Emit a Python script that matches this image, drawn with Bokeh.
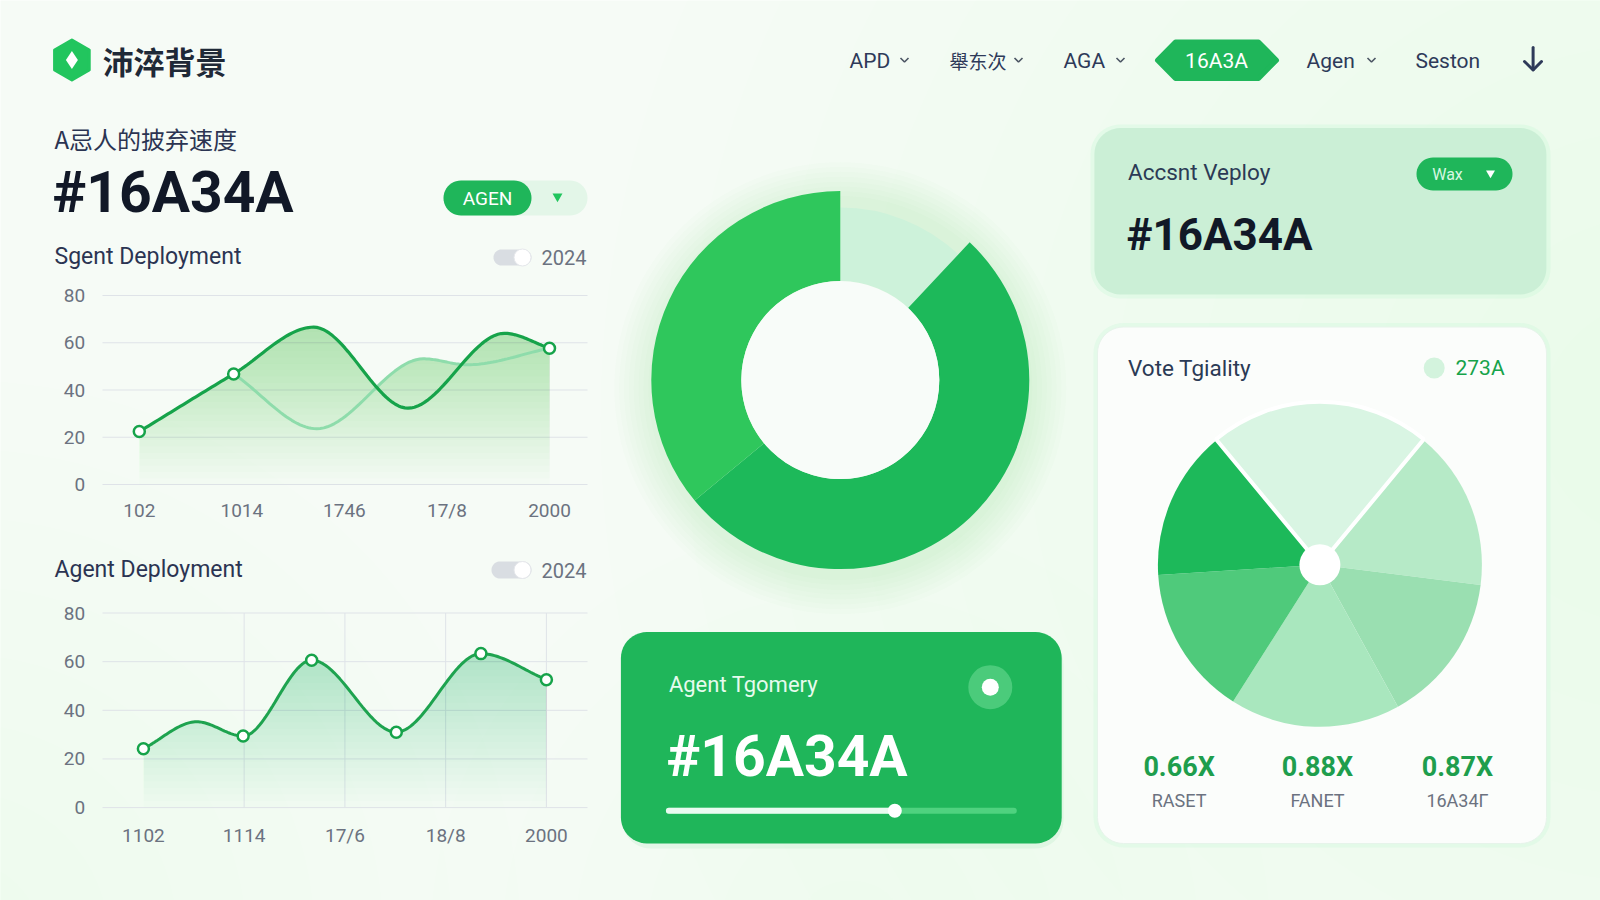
import numpy as np
from bokeh.plotting import figure
from bokeh.models import Range1d
from bokeh.core.properties import value
from bokeh.embed import file_html
from bokeh.resources import INLINE

# ---------------- data ----------------
brand = "沛淬背景"
nav_items = ["APD", "舉东次", "AGA", "16A3A", "Agen", "Seston"]
kpi_title = "A忌人的披弃速度"
kpi_value = "#16A34A"
y_ticks = [0, 20, 40, 60, 80]

c1_title = "Sgent Deployment"
c1_labels = ["102", "1014", "1746", "17/8", "2000"]
c1_main_x = [0, 0.92, 1.70, 2.62, 3.56, 4.0]
c1_main_y = [22.4, 46.8, 66.6, 32.3, 64.0, 57.7]
c1_marked = [0, 1, 5]
c1_soft_x = [0.92, 1.73, 2.77, 3.20, 4.0]
c1_soft_y = [46.8, 23.6, 53.2, 50.7, 57.7]

c2_title = "Agent Deployment"
c2_labels = ["1102", "1114", "17/6", "18/8", "2000"]
c2_x = [0, 0.53, 0.99, 1.67, 2.51, 3.35, 4.0]
c2_y = [24.2, 35.3, 29.4, 60.6, 31.0, 63.3, 52.6]
c2_marked = [0, 2, 3, 4, 5, 6]

donut_values = [12, 52, 36]
donut_colors = ["#cdf2da", "#1db95a", "#2fc75c"]

card_title = "Agent Tgomery"
progress = 0.655

accent_title = "Accsnt Veploy"
vote_title = "Vote Tgiality"
vote_badge = "273A"
pie_values = [22, 16, 15, 17, 15, 15]
pie_colors = ["#d9f5e3", "#b6eac7", "#9adfb1", "#a9e7be", "#4fca7b", "#1db95a"]
stat_values = ["0.66X", "0.88X", "0.87X"]
stat_labels = ["RASET", "FANET", "16A34Γ"]

# ---------------- canvas ----------------
W, H = 1600, 900
BG = "#f6fbf6"
p = figure(width=W, height=H, x_range=Range1d(0, W), y_range=Range1d(H, 0),
           x_axis_type=None, y_axis_type=None, output_backend="svg",
           toolbar_location=None, min_border=0, background_fill_color=BG,
           border_fill_color=BG, outline_line_color=None)

GREEN = "#1fb65a"
DARK = "#16a34a"
NAVY = "#2b3452"
GREY = "#6b7280"


def chart_ranges(x0_px, dx, zero_px, top_px, vmax=80):
    k = (zero_px - top_px) / vmax
    yr = Range1d((zero_px - H) / k, zero_px / k)
    xr = Range1d((0 - x0_px) / dx, (W - x0_px) / dx)
    return xr, yr


x1r, y1r = chart_ranges(138.8, 102.55, 484.0, 295.0)
x2r, y2r = chart_ranges(142.9, 100.75, 807.1, 612.5)
p.extra_x_ranges = {"c1x": x1r, "c2x": x2r}
p.extra_y_ranges = {"c1y": y1r, "c2y": y2r}


def rrect(x0, y0, x1, y1, r, n=12):
    xs, ys = [], []
    for cx, cy, a0 in [(x1 - r, y0 + r, -90), (x1 - r, y1 - r, 0),
                       (x0 + r, y1 - r, 90), (x0 + r, y0 + r, 180)]:
        a = np.radians(np.linspace(a0, a0 + 90, n))
        xs.extend(cx + r * np.cos(a))
        ys.extend(cy + r * np.sin(a))
    return xs, ys


def box(x0, y0, x1, y1, r, fill, alpha=1.0, line=None, lw=1):
    xs, ys = rrect(x0, y0, x1, y1, r)
    p.patch(xs, ys, fill_color=fill, fill_alpha=alpha, line_color=line, line_width=lw)


def T(x, y, s, size, color, font="Roboto", bold=False, align="left", **kw):
    xs = list(x) if isinstance(x, (list, tuple, np.ndarray)) else [x]
    ys = list(y) if isinstance(y, (list, tuple, np.ndarray)) else [y] * len(xs)
    if len(xs) == 1 and len(ys) > 1:
        xs = xs * len(ys)
    ss = list(s) if isinstance(s, (list, tuple)) else [s] * len(xs)
    p.text(x=xs, y=ys, text=ss, text_font=value(font), text_font_size=f"{size}px",
           text_color=color, text_font_style="bold" if bold else "normal",
           text_align=align, text_baseline="middle", **kw)


def monotone(xs, ys, n=30):
    xs = np.asarray(xs, float)
    ys = np.asarray(ys, float)
    h = np.diff(xs)
    d = np.diff(ys) / h
    m = np.zeros(len(xs))
    m[0], m[-1] = d[0], d[-1]
    for i in range(1, len(xs) - 1):
        if d[i - 1] * d[i] <= 0:
            m[i] = 0.0
        else:
            w1 = 2 * h[i] + h[i - 1]
            w2 = h[i] + 2 * h[i - 1]
            m[i] = (w1 + w2) / (w1 / d[i - 1] + w2 / d[i])
    X, Y = [], []
    for i in range(len(h)):
        t = np.linspace(0, 1, n, endpoint=(i == len(h) - 1))
        h00 = 2 * t**3 - 3 * t**2 + 1
        h10 = t**3 - 2 * t**2 + t
        h01 = -2 * t**3 + 3 * t**2
        h11 = t**3 - t**2
        X.extend(xs[i] + t * h[i])
        Y.extend(h00 * ys[i] + h10 * h[i] * m[i] + h01 * ys[i + 1] + h11 * h[i] * m[i + 1])
    return np.array(X), np.array(Y)


def grad_fill(X, Y, name, color, top_alpha, n=26, vmax=70.0):
    # vertical gradient: stacked translucent bands, denser toward the top
    a = 1 - (1 - top_alpha) ** (1.0 / n)
    for k in range(n):
        lvl = vmax * k / n
        p.varea(x=X, y1=np.minimum(Y, lvl), y2=Y, fill_color=color, fill_alpha=a,
                x_range_name=name + "x", y_range_name=name + "y")


# ---------------- soft background glows ----------------
for cx, cy, rmax, rmin, nl, al in [(1660, 420, 1060, 120, 12, 0.008),
                                   (-40, 940, 560, 80, 8, 0.009),
                                   (850, 940, 420, 60, 6, 0.006)]:
    rr = np.linspace(rmax, rmin, nl)
    p.circle(x=[cx] * nl, y=[cy] * nl, radius=rr, fill_color="#4ade80",
             fill_alpha=al, line_color=None)

# ---------------- header ----------------
p.scatter(x=[71.4], y=[59.5], marker="hex", size=40, angle=np.pi / 6,
          fill_color="#22c55e", line_color="#22c55e", line_width=3, line_join="round")
p.scatter(x=[71.4], y=[59.5], marker="diamond", size=18, fill_color="white", line_color=None)
T(102, 60, brand, 31, "#1f2937", font="Noto Sans CJK SC", bold=True)

nav_x = [849, 949, 1063, 1216, 1306, 1415]
nav_chev = [904, 1018, 1120, None, 1371, None]
pxs = [1157, 1175, 1258, 1276, 1258, 1175]
pys = [59.7, 41.5, 41.5, 59.7, 78, 78]
p.patch(pxs, pys, fill_color=GREEN, line_color=GREEN, line_width=5, line_join="round")
for i, (nx, lab, cv) in enumerate(zip(nav_x, nav_items, nav_chev)):
    if i == 3:
        T(nx, 60, lab, 21, "white", align="center")
    elif any(ord(c) > 255 for c in lab):
        T(nx, 60, lab, 19, "#2e3a59", font="Noto Sans CJK SC")
    else:
        T(nx, 60, lab, 21, "#2e3a59")
    if cv is not None:
        p.line([cv - 4, cv, cv + 4], [57.5, 61.5, 57.5], line_color="#4b5563", line_width=1.6)
# download arrow
p.line([1532.6, 1532.6], [47, 69], line_color="#2e3a59", line_width=3, line_cap="round")
p.line([1524, 1532.6, 1541], [61, 69.5, 61], line_color="#2e3a59", line_width=3,
       line_cap="round", line_join="round")

# ---------------- left KPI block ----------------
T(54, 138, kpi_title, 24, NAVY, font="Noto Sans CJK SC")
T(52, 192, kpi_value, 57, "#111827", bold=True)
box(443, 180, 587, 215, 17.5, "#e3f6e8")
box(443, 180, 531, 215, 17.5, GREEN)
T(487, 198, "AGEN", 19, "white", align="center")
p.scatter(x=[557], y=[196], marker="inverted_triangle", size=10, fill_color="#22c55e", line_color=None)


def toggle(x0, y0, x1, y1):
    box(x0, y0, x1, y1, (y1 - y0) / 2, "#d9dde2")
    p.circle(x=[x1 - 9], y=[(y0 + y1) / 2], radius=8.5, fill_color="white",
             line_color="#e5e7eb", line_width=1)


# ---------------- chart 1 ----------------
T(54, 256, c1_title, 23, NAVY)
toggle(493, 249, 531, 265)
T(541, 257, "2024", 20, GREY)
p.segment(x0=102, x1=587, y0=y_ticks, y1=y_ticks, line_color="#dfe3e8", line_width=1,
          y_range_name="c1y")
T([84.7] * 5, y_ticks, [str(t) for t in y_ticks], 19, GREY, align="right", y_range_name="c1y")
T(list(range(5)), [510] * 5, c1_labels, 19, GREY, align="center", x_range_name="c1x")
X1, Y1 = monotone(c1_main_x, c1_main_y)
X1b, Y1b = monotone(c1_soft_x, c1_soft_y)
Ytop = np.where(X1 >= X1b[0], np.maximum(Y1, np.interp(X1, X1b, Y1b)), Y1)
grad_fill(X1, Ytop, "c1", "#22c55e", 0.32)
p.line(X1b, Y1b, line_color="#8edcab", line_width=3, x_range_name="c1x", y_range_name="c1y")
p.line(X1, Y1, line_color=DARK, line_width=3.2, x_range_name="c1x", y_range_name="c1y")
p.scatter(x=[c1_main_x[i] for i in c1_marked], y=[c1_main_y[i] for i in c1_marked], size=11,
          fill_color="white", line_color=DARK, line_width=2.5,
          x_range_name="c1x", y_range_name="c1y")

# ---------------- chart 2 ----------------
T(54, 569, c2_title, 23, NAVY)
toggle(491, 561, 531, 578)
T(541, 570, "2024", 20, GREY)
p.segment(x0=102, x1=587, y0=y_ticks, y1=y_ticks, line_color="#dfe3e8", line_width=1,
          y_range_name="c2y")
p.segment(x0=[1, 2, 3, 4], x1=[1, 2, 3, 4], y0=0, y1=80, line_color="#dfe3e8", line_width=1,
          x_range_name="c2x", y_range_name="c2y")
T([84.7] * 5, y_ticks, [str(t) for t in y_ticks], 19, GREY, align="right", y_range_name="c2y")
T(list(range(5)), [834.7] * 5, c2_labels, 19, GREY, align="center", x_range_name="c2x")
X2, Y2 = monotone(c2_x, c2_y)
grad_fill(X2, Y2, "c2", "#22c55e", 0.30)
p.line(X2, Y2, line_color="#1ea34f", line_width=3, x_range_name="c2x", y_range_name="c2y")
p.scatter(x=[c2_x[i] for i in c2_marked], y=[c2_y[i] for i in c2_marked], size=11,
          fill_color="white", line_color=DARK, line_width=2.5,
          x_range_name="c2x", y_range_name="c2y")

# ---------------- donut ----------------
dcx, dcy = 839.8, 379.6
gr = np.linspace(226, 192, 8)
p.circle(x=[dcx] * 8, y=[dcy + 8] * 8, radius=gr, fill_color="#22c55e", fill_alpha=0.016,
         line_color=None)
dv = np.array(donut_values, float)
cum = np.concatenate([[0], np.cumsum(dv)]) / dv.sum() * 2 * np.pi
p.annular_wedge(x=dcx, y=dcy, inner_radius=99, outer_radius=[172.5, 189, 189],
                start_angle=np.pi / 2 - cum[:-1], end_angle=np.pi / 2 - cum[1:],
                direction="clock", fill_color=donut_colors, line_color=None)
p.circle(x=[dcx], y=[dcy], radius=99, fill_color="#f8fcf9", line_color=None)

# ---------------- green card ----------------
box(622, 636, 1063, 848, 28, "#22c55e", alpha=0.08)
box(620.4, 631.6, 1061.2, 842.9, 26, GREEN)
T(668.4, 684, card_title, 22, "#e6fbee")
T(666, 756, kpi_value, 57, "white", bold=True)
p.circle(x=[989.8], y=[686.7], radius=22, fill_color="#6fdc98", fill_alpha=0.55, line_color=None)
p.circle(x=[989.8], y=[686.7], radius=8.5, fill_color="white", line_color=None)
sx0, sx1 = 668.4, 1013.3
sk = sx0 + progress * (sx1 - sx0)
p.segment(x0=[sx0], x1=[sx1], y0=[810.2], y1=[810.2], line_color="#4fd27f", line_width=6,
          line_cap="round")
p.segment(x0=[sx0], x1=[sk], y0=[810.2], y1=[810.2], line_color="#e9fbf0", line_width=6,
          line_cap="round")
p.circle(x=[sk], y=[810.2], radius=7, fill_color="white", line_color=None)

# ---------------- right top card ----------------
box(1090, 124, 1550, 298, 30, "#bbf7d0", alpha=0.25)
box(1093.9, 127.6, 1545.9, 293.9, 26, "#cbefd6")
T(1127.5, 171.5, accent_title, 22.5, "#2b3a55")
T(1126, 234, kpi_value, 44, "#111827", bold=True)
box(1416, 157, 1512, 190, 16.5, GREEN)
T(1447, 173.5, "Wax", 16, "#d7f8e2", align="center")
p.scatter(x=[1490], y=[172.5], marker="inverted_triangle", size=9, fill_color="white",
          line_color=None)

# ---------------- right bottom card ----------------
box(1093, 322.5, 1550, 847, 30, "#bbf7d0", alpha=0.22)
box(1097, 326.5, 1546, 843, 26, "#fbfdfb", line="#e6f4ea", lw=1)
T(1127.5, 367.5, vote_title, 22.5, "#2b3a55")
p.circle(x=[1433.7], y=[367.5], radius=10.5, fill_color="#d3f3dd", line_color=None)
T(1455, 367.5, vote_badge, 21, DARK)
pcx, pcy, pr = 1319.4, 564.3, 162
pv = np.array(pie_values, float)
pc = np.concatenate([[0], np.cumsum(pv)]) / pv.sum() * 2 * np.pi - pv[0] / pv.sum() * np.pi
p.wedge(x=pcx, y=pcy, radius=pr, start_angle=np.pi / 2 - pc[:-1], end_angle=np.pi / 2 - pc[1:],
        direction="clock", fill_color=pie_colors, line_color=None)
p.wedge(x=pcx, y=pcy, radius=pr + 1, start_angle=np.pi / 2 - pc[0], end_angle=np.pi / 2 - pc[1],
        direction="clock", fill_color=None, line_color="white", line_width=4)
p.circle(x=[pcx], y=[pcy], radius=20.5, fill_color="white", line_color=None)
stat_x = [1178.6, 1317, 1457]
T(stat_x, [766.5] * 3, stat_values, 27, "#1e9e4d", bold=True, align="center")
T(stat_x, [800] * 3, stat_labels, 18, GREY, align="center")

open("out.html", "w").write(file_html(p, INLINE))
